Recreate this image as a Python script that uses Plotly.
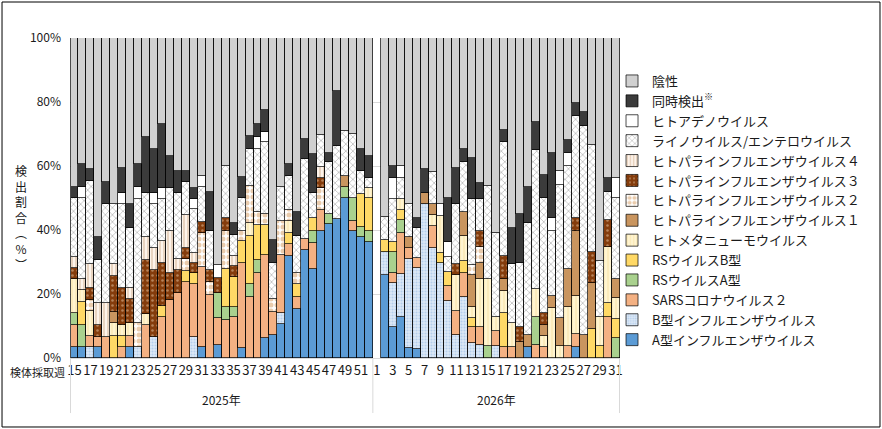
import plotly.graph_objects as go

# 週（2025年第15週〜第52週, 2026年第1週〜第31週）
weeks_2025 = list(range(15, 53))
weeks_2026 = list(range(1, 32))
categories = [f"2025-{w}" for w in weeks_2025] + [f"2026-{w}" for w in weeks_2026]

# 検出割合（%）  ※2026年第1週はデータなし
flu_a = [3.3, 3.3, 0, 3.3, 0, 0, 0, 3.3, 0, 0,
         0, 0, 0, 0, 0, 0, 3.3, 0, 4.1, 0,
         0, 3.0, 0, 0, 6.2, 7.2, 10.6, 31.9, 15.2, 33.9,
         27.7, 39.8, 41.9, 43.3, 49.9, 39.8, 37.9, 36.3,
         None, 25.9, 9.8, 12.9, 3.0, 2.7, 0, 0, 0, 0,
         0, 0, 0, 0, 0, 0, 0, 0, 0, 3.5,
         0, 0, 0, 0, 0, 3.5, 0, 0, 0, 0, 0]
flu_b = [0, 0, 3.3, 0, 0, 0, 0, 0, 3.3, 0,
         6.7, 0, 0, 0, 0, 6.5, 0, 0, 0, 0,
         0, 0, 0, 0, 0, 0, 3.4, 0, 0, 0,
         0, 0, 0, 0, 0, 0, 0, 0,
         None, 7.3, 13.5, 13.5, 27.8, 25.3, 48.1, 34.3, 29.6, 17.9,
         7.2, 19.0, 4.8, 4.1, 0, 3.8, 0, 0, 0, 0,
         0, 0, 0, 0, 0, 0, 0, 0, 0, 0, 0]
sars = [7.0, 0, 3.6, 3.4, 6.7, 0, 3.3, 3.6, 0, 10.3,
        0, 12.9, 18.0, 20.4, 23.9, 16.6, 25.0, 19.7, 8.3, 11.9,
        12.7, 26.6, 19.0, 26.7, 26.0, 7.3, 18.2, 3.8, 3.8, 3.2,
        8.1, 6.4, 0, 0, 0, 3.1, 0, 0,
        None, 0, 3.3, 12.7, 3.5, 3.1, 0, 7.0, 0, 4.6,
        7.6, 7.6, 4.8, 5.5, 0, 4.5, 3.3, 3.5, 0, 0,
        4.1, 3.5, 0, 0, 3.8, 4.0, 0, 0, 0, 12.7, 0]
rsv_a = [3.9, 7.0, 0, 0, 0, 0, 0, 0, 0, 0,
         0, 0, 0, 0, 0, 0, 0, 0, 8.0, 3.9,
         3.1, 0, 4.2, 3.9, 0, 0, 0, 0, 0, 0,
         4.0, 0, 3.2, 0, 3.4, 7.0, 3.1, 3.5,
         None, 0, 6.6, 4.0, 0, 0, 0, 0, 0, 0,
         0, 0, 0, 0, 3.8, 0, 0, 0, 0, 0,
         8.6, 0, 0, 0, 0, 0, 0, 0, 0, 0, 6.1]
rsv_b = [0, 7.3, 0, 0, 0, 6.9, 3.6, 0, 0, 0,
         0, 3.4, 0, 0, 3.4, 3.4, 0, 0, 0, 11.9,
         9.6, 7.1, 15.0, 11.0, 9.4, 0, 0, 3.5, 4.1, 0,
         3.8, 0, 0, 0, 0, 0, 10.4, 10.1,
         None, 3.6, 3.1, 3.3, 0, 0, 0, 0, 3.3, 4.5,
         0, 3.8, 2.8, 0, 0, 0, 10.9, 0, 0, 0,
         0, 0, 0, 0, 0, 0, 0, 9.0, 3.8, 4.6, 6.0]
hmpv = [10.4, 3.5, 7.8, 0, 0, 4.0, 3.4, 3.9, 0, 3.5,
        0, 0, 0, 0, 0, 0, 0, 0, 0, 0,
        0, 0, 4.0, 0, 0, 0, 0, 3.5, 0, 0,
        0, 0, 0, 0, 0, 0, 0, 3.1,
        None, 0, 0, 3.2, 0, 0, 0, 3.5, 11.5, 0,
        11.1, 7.7, 3.6, 15.0, 20.9, 4.5, 6.8, 7.5, 0, 0,
        8.8, 3.4, 15.5, 3.8, 12.1, 11.9, 0, 0, 9.0, 17.3, 6.6]
para1 = [0, 0, 0, 0, 0, 3.6, 0, 0, 0, 0,
         0, 0, 0, 0, 0, 0, 0, 0, 0, 0,
         0, 0, 0, 0, 0, 0, 0, 0, 0, 0,
         0, 0, 0, 0, 3.6, 0, 0, 0,
         None, 0, 0, 0, 3.5, 0, 3.5, 3.4, 0, 0,
         0, 7.6, 9.9, 5.0, 0, 0, 3.6, 0, 5.1, 3.7,
         0, 3.4, 3.9, 8.7, 11.9, 20.4, 7.2, 14.5, 0, 0, 6.0]
para2 = [0, 0, 3.4, 0, 0, 0, 0, 0, 7.5, 0,
         0, 0, 0, 0, 3.6, 0, 10.7, 4.2, 0, 12.1,
         0, 3.1, 11.4, 4.1, 3.4, 3.8, 10.7, 3.4, 3.5, 0,
         0, 6.8, 0, 0, 0, 0, 0, 0,
         None, 0, 0, 0, 0, 0, 0, 0, 0, 0,
         0, 0, 3.1, 5.2, 0, 0, 0, 0, 0, 0,
         0, 0, 0, 0, 0, 0, 0, 0, 0, 0, 0]
para3 = [3.4, 0, 3.7, 3.6, 0, 11.2, 11.7, 7.5, 0, 16.9,
         20.8, 13.4, 8.5, 7.1, 3.4, 3.1, 3.6, 3.6, 4.5, 3.8,
         3.4, 0, 0, 0, 0, 0, 0, 0, 0, 0,
         0, 3.4, 0, 0, 0, 0, 0, 0,
         None, 0, 0, 0, 0, 0, 0, 0, 0, 0,
         3.5, 0, 0, 5.0, 0, 0, 7.3, 0, 4.7, 0,
         0, 3.7, 0, 0, 0, 3.9, 0, 9.5, 0, 8.5, 0]
para4 = [3.7, 3.5, 7.5, 6.8, 10.4, 3.6, 0, 3.5, 0, 7.1,
         6.8, 6.8, 13.3, 3.4, 10.4, 3.3, 0, 0, 0, 0,
         3.2, 0, 0, 0, 0, 0, 0, 0, 0, 0,
         0, 3.4, 0, 0, 0, 0, 0, 0,
         None, 0, 0, 0, 0, 0, 0, 0, 0, 0,
         0, 0, 0, 0, 0, 0, 0, 0, 0, 0,
         0, 0, 0, 0, 0, 0, 0, 0, 0, 0, 0]
rhino = [18.2, 25.3, 26.0, 13.5, 30.9, 18.7, 26.0, 18.7, 38.8, 13.8,
         13.7, 13.2, 13.2, 20.6, 10.4, 13.6, 10.9, 12.3, 0, 16.4,
         6.5, 10.1, 11.7, 19.5, 22.6, 11.3, 10.4, 10.9, 11.5, 25.0,
         8.0, 9.9, 16.0, 22.9, 14.1, 20.1, 7.1, 3.4,
         None, 7.3, 13.3, 6.8, 10.4, 9.4, 0, 9.9, 0, 4.7,
         18.8, 15.6, 20.6, 9.8, 29.1, 26.3, 35.7, 18.4, 20.0, 34.9,
         43.5, 35.9, 20.4, 41.7, 32.1, 32.0, 65.3, 33.6, 17.4, 8.9, 25.3]
adeno = [0, 3.4, 0, 0, 0, 0, 3.7, 0, 3.7, 0,
         3.5, 3.4, 0, 0, 0, 3.1, 3.4, 0, 4.2, 0,
         0, 0, 0, 3.8, 3.1, 0, 0, 0, 0, 0,
         0, 0, 0, 0, 0, 0, 0, 0,
         None, 0, 6.8, 3.6, 0, 0, 0, 0, 3.8, 4.4,
         0, 0, 0, 0, 0, 0, 0, 0, 0, 0,
         0, 0, 3.9, 4.2, 4.2, 0, 0, 0, 0, 0, 6.3]
coinf = [3.6, 7.3, 3.8, 7.3, 7.1, 0, 7.6, 7.5, 7.3, 17.5,
         13.7, 20.1, 10.1, 7.0, 3.4, 3.4, 0, 12.2, 0, 0,
         3.7, 6.8, 4.0, 4.1, 6.8, 7.3, 0, 3.7, 7.6, 6.2,
         12.1, 0, 3.1, 17.2, 0, 0, 6.7, 6.7,
         None, 0, 3.6, 0, 0, 3.1, 7.6, 0, 0, 13.9,
         11.2, 3.9, 12.8, 5.2, 0, 0, 3.7, 11.1, 15.2, 11.4,
         8.9, 7.3, 20.4, 0, 3.9, 4.0, 4.5, 0, 0, 4.2, 0]

positives = [flu_a, flu_b, sars, rsv_a, rsv_b, hmpv, para1, para2, para3, para4, rhino, adeno, coinf]
negative = [None if col[0] is None else round(100 - sum(col), 1) for col in zip(*positives)]

# (名前, データ, 色, パターン)
series = [
    ("A型インフルエンザウイルス", flu_a, "#5b9bd5", None),
    ("B型インフルエンザウイルス", flu_b, "#dae8f5", dict(shape=".", fgcolor="#8db4e2", bgcolor="#dde9f6", size=3, solidity=0.4)),
    ("SARSコロナウイルス２", sars, "#f4b183", None),
    ("RSウイルスA型", rsv_a, "#a9d18e", None),
    ("RSウイルスB型", rsv_b, "#ffd966", None),
    ("ヒトメタニューモウイルス", hmpv, "#fff2cc", dict(shape="|", fgcolor="#f0d080", bgcolor="#fff4d0", size=4, solidity=0.25)),
    ("ヒトパラインフルエンザウイルス１", para1, "#c9955f", None),
    ("ヒトパラインフルエンザウイルス２", para2, "#ffffff", dict(shape=".", fgcolor="#d4985a", bgcolor="#ffffff", size=6, solidity=0.55)),
    ("ヒトパラインフルエンザウイルス３", para3, "#8b4513", dict(shape=".", fgcolor="#e8c9a8", bgcolor="#843c0c", size=5, solidity=0.2)),
    ("ヒトパラインフルエンザウイルス４", para4, "#fbeee2", dict(shape="|", fgcolor="#b88a60", bgcolor="#fdf3ea", size=4, solidity=0.3)),
    ("ライノウイルス/エンテロウイルス", rhino, "#ffffff", dict(shape="x", fgcolor="#7f7f7f", bgcolor="#ffffff", size=5, solidity=0.3)),
    ("ヒトアデノウイルス", adeno, "#ffffff", None),
    ("同時検出<sup>※</sup>", coinf, "#3b3b3b", None),
    ("陰性", negative, "#d0d0d0", None),
]

fig = go.Figure()
for name, values, color, pattern in series:
    marker = dict(color=color, line=dict(color="#000000", width=0.7))
    if pattern:
        marker["pattern"] = pattern
    fig.add_trace(go.Bar(x=categories, y=values, name=name, marker=marker))

tick_vals = [f"2025-{w}" for w in weeks_2025 if w % 2 == 1] + [f"2026-{w}" for w in weeks_2026 if w % 2 == 1]
tick_text = [c.split("-")[1] for c in tick_vals]

font_jp = "Noto Sans CJK JP"

fig.update_layout(
    width=882,
    height=429,
    margin=dict(l=70, r=262, t=38, b=71),
    barmode="stack",
    bargap=0,
    plot_bgcolor="#ffffff",
    paper_bgcolor="#ffffff",
    font=dict(family=font_jp, size=12, color="#1a1a1a"),
    showlegend=True,
    legend=dict(
        x=0.9855, y=0.9125, xanchor="left", yanchor="top",
        traceorder="reversed",
        bgcolor="rgba(0,0,0,0)",
        font=dict(family=font_jp, size=13, color="#1a1a1a"),
        itemwidth=30,
    ),
    xaxis=dict(
        type="category",
        categoryorder="array",
        categoryarray=categories,
        tickmode="array",
        tickvals=tick_vals,
        ticktext=tick_text,
        tickangle=0,
        tickfont=dict(family=font_jp, size=13),
        showline=True,
        linecolor="#d9d9d9",
        showgrid=False,
        ticks="",
    ),
    yaxis=dict(
        range=[0, 100],
        tickmode="array",
        tickvals=[0, 20, 40, 60, 80, 100],
        ticktext=["0%", "20%", "40%", "60%", "80%", "100%"],
        tickfont=dict(family=font_jp, size=12),
        ticklabelstandoff=8,
        showgrid=True,
        gridcolor="#d9d9d9",
        zeroline=False,
        ticks="",
    ),
)

# 年の区切り線
for xpos in [-0.5, 37.5, 68.5]:
    fig.add_shape(type="line", xref="x", yref="paper", x0=xpos, x1=xpos, y0=0, y1=-0.172,
                  line=dict(color="#d9d9d9", width=1))

# 外枠
fig.add_shape(type="rect", xref="paper", yref="paper", x0=-0.1236, x1=1.4727, y0=-0.2156, y1=1.1125,
              line=dict(color="#000000", width=1))

fig.add_annotation(x=18.5, y=-0.13, xref="x", yref="paper", xanchor="center", yanchor="middle",
                   text="2025年", showarrow=False, font=dict(family=font_jp, size=12))
fig.add_annotation(x=53, y=-0.13, xref="x", yref="paper", xanchor="center", yanchor="middle",
                   text="2026年", showarrow=False, font=dict(family=font_jp, size=12))
fig.add_annotation(x=-0.006, y=-0.045, xref="paper", yref="paper", xanchor="right", yanchor="middle",
                   text="検体採取週", showarrow=False, font=dict(family=font_jp, size=11))
fig.add_annotation(x=-0.089, y=0.44, xref="paper", yref="paper", xanchor="center", yanchor="middle",
                   text="検<br>出<br>割<br>合<br>︵<br>%<br>︶", showarrow=False,
                   font=dict(family=font_jp, size=12))

fig.write_html("out.html", config={"displayModeBar": False},
               post_script="document.body.style.margin='0';")
